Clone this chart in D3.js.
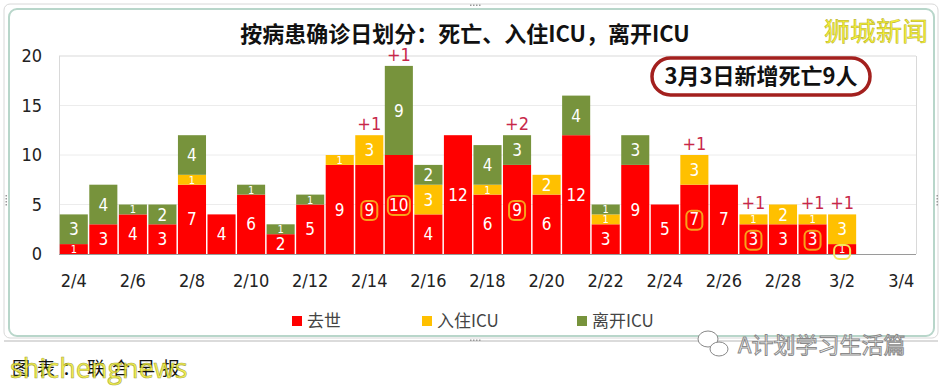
<!DOCTYPE html>
<html><head><meta charset="utf-8">
<script src="https://cdn.jsdelivr.net/npm/d3@7"></script>
<style>
body{margin:0;background:#fff;}
svg{display:block;}
</style></head>
<body>
<svg id="c" width="944" height="386"></svg>
<script>
const categories = ["2/4","2/5","2/6","2/7","2/8","2/9","2/10","2/11","2/12","2/13","2/14","2/15","2/16","2/17","2/18","2/19","2/20","2/21","2/22","2/23","2/24","2/25","2/26","2/27","2/28","3/1","3/2","3/3","3/4"];
const deaths   = [1,3,4,3,7,4,6,2,5,9,9,10,4,12,6,9,6,12,3,9,5,7,7,3,3,3,1,0,0];
const icuIn    = [0,0,0,0,1,0,0,0,0,1,3,0,3,0,1,0,2,0,1,0,0,3,0,1,2,1,3,0,0];
const icuOut   = [3,4,1,2,4,0,1,1,1,0,0,9,2,0,4,3,0,4,1,3,0,0,0,0,0,0,0,0,0];
const extraDeaths = ["","","","","","","","","","","+1","+1","","","","+2","","","","","","+1","","+1","","+1","+1","",""];
const circled = ["","","","","","","","","","","o","o","","","","o","","","","","","o","","o","","o","y","",""];
const yTicks = [0,5,10,15,20];
const seriesNames = ["去世","入住ICU","离开ICU"];
const seriesColors = ["#ff0000","#ffc000","#77933c"];
const title = "按病患确诊日划分：死亡、入住ICU，离开ICU";
const note = "3月3日新增死亡9人";

const svg = d3.select("#c");
const numFont = "'Liberation Sans Narrow','DejaVu Sans Condensed',sans-serif";
const cjkFont = "'Noto Sans CJK SC','Noto Sans',sans-serif";

// outer frame
svg.append("rect").attr("x",4).attr("y",4).attr("width",934).attr("height",334).attr("rx",6)
  .attr("fill","none").attr("stroke","#d8d8d8").attr("stroke-width",1);
svg.append("rect").attr("x",9).attr("y",9).attr("width",925).attr("height",327).attr("rx",8)
  .attr("fill","#fff").attr("stroke","#b8d6ca").attr("stroke-width",2);
svg.append("line").attr("x1",4).attr("x2",938).attr("y1",341).attr("y2",341).attr("stroke","#cfcfcf").attr("stroke-width",1.5);
[[470,5],[470,340],[6,195],[937,195]].forEach(([x,y],i)=>{
  for(let k=0;k<4;k++){
    if(i<2) svg.append("rect").attr("x",x+k*3).attr("y",y-0.5).attr("width",1.5).attr("height",1.5).attr("fill","#999");
    else svg.append("rect").attr("x",x-0.5).attr("y",y+k*3).attr("width",1.5).attr("height",1.5).attr("fill","#999");
  }
});

const x = d3.scaleBand().domain(categories).range([59,916]).paddingInner(0.05).paddingOuter(0.025);
const y = d3.scaleLinear().domain([0,20]).range([254,56]);

// plot frame and gridlines
svg.append("g").selectAll("line").data(yTicks.filter(d=>d>0)).join("line")
  .attr("x1",59).attr("x2",916).attr("y1",d=>y(d)).attr("y2",d=>y(d))
  .attr("stroke",d=>d===20?"#d9d9d9":"#ececec").attr("stroke-width",1);
svg.append("line").attr("x1",59.5).attr("x2",59.5).attr("y1",56).attr("y2",254).attr("stroke","#d9d9d9");
svg.append("line").attr("x1",916.5).attr("x2",916.5).attr("y1",56).attr("y2",254).attr("stroke","#d9d9d9");

// y axis
const yAxis = d3.axisLeft(y).tickValues(yTicks).tickSize(0).tickPadding(0);
const ya = svg.append("g").attr("transform","translate(42,0)").call(yAxis);
ya.select(".domain").remove();
ya.selectAll("text").attr("font-family",numFont).attr("font-size",18).attr("fill","#222");

// x axis
const xAxis = d3.axisBottom(x).tickValues(categories.filter((d,i)=>i%2===0)).tickSize(0).tickPadding(0);
const xa = svg.append("g").attr("transform","translate(0,274)").call(xAxis);
xa.select(".domain").remove();
xa.selectAll("text").attr("font-family",numFont).attr("font-size",18).attr("fill","#222");

// stacked bars
const rows = categories.map((c,i)=>({cat:c, s0:deaths[i], s1:icuIn[i], s2:icuOut[i]}));
const stack = d3.stack().keys(["s0","s1","s2"])(rows);
stack.forEach((layer,li)=>{
  const g = svg.append("g");
  layer.forEach((d,i)=>{
    const v = d[1]-d[0];
    if(v<=0) return;
    const x0 = x(categories[i]), bw = x.bandwidth();
    g.append("rect").attr("x",x0).attr("y",y(d[1])).attr("width",bw).attr("height",y(d[0])-y(d[1]))
      .attr("fill",seriesColors[li]);
  });
});
svg.append("line").attr("x1",59).attr("x2",916).attr("y1",254.5).attr("y2",254.5).attr("stroke","#9a9a9a").attr("stroke-width",1.2);

// segment labels
stack.forEach((layer,li)=>{
  layer.forEach((d,i)=>{
    const v = d[1]-d[0];
    if(v<=0) return;
    const cx = x(categories[i])+x.bandwidth()/2;
    const cy = (y(d[0])+y(d[1]))/2;
    const fs = v===1 ? 11 : 17;
    svg.append("text").attr("x",cx).attr("y",cy).attr("dy","0.36em").attr("text-anchor","middle")
      .attr("font-family",numFont).attr("font-size",fs).attr("fill","#fff").text(v);
    if(li===0 && circled[i]){
      const w = v>=10 ? 22 : 16, h = v===1 ? 14 : 19;
      svg.append("rect").attr("x",cx-w/2).attr("y",cy-h/2+(v===1?3:1)).attr("width",w).attr("height",h).attr("rx",5)
        .attr("fill","none").attr("stroke",circled[i]==="y"?"#f3e85a":"#f7a21b").attr("stroke-width",2);
    }
  });
});

// extra death annotations
rows.forEach((r,i)=>{
  if(!extraDeaths[i]) return;
  const top = r.s0+r.s1+r.s2;
  svg.append("text").attr("x",x(r.cat)+x.bandwidth()/2).attr("y",y(top)-5)
    .attr("text-anchor","middle").attr("font-family",numFont).attr("font-size",18)
    .attr("fill","#c8284a").text(extraDeaths[i]);
});

// title
svg.append("text").attr("x",465).attr("y",42).attr("text-anchor","middle")
  .attr("font-family",cjkFont).attr("font-weight","bold").attr("font-size",22).attr("fill","#111").text(title);

// watermark top right
svg.append("text").attr("x",876).attr("y",41).attr("text-anchor","middle")
  .attr("font-family",cjkFont).attr("font-size",26).attr("fill","#f6f236")
  .attr("stroke","#b4ac28").attr("stroke-width",0.5).text("狮城新闻");

// note box
svg.append("rect").attr("x",652).attr("y",58).attr("width",218).attr("height",37).attr("rx",18.5)
  .attr("fill","#fff").attr("stroke","#a3201e").attr("stroke-width",3.5);
svg.append("text").attr("x",761).attr("y",84).attr("text-anchor","middle")
  .attr("font-family",cjkFont).attr("font-weight","bold").attr("font-size",22).attr("fill","#111").text(note);

// legend
const legX = [292,422,577];
seriesNames.forEach((n,i)=>{
  svg.append("rect").attr("x",legX[i]).attr("y",316).attr("width",10).attr("height",10).attr("fill",seriesColors[i]);
  svg.append("text").attr("x",legX[i]+15).attr("y",321).attr("dy","0.36em")
    .attr("font-family",cjkFont).attr("font-size",17).attr("fill","#444").text(n);
});

// bottom watermarks
svg.append("text").attr("x",12).attr("y",375).attr("font-family",cjkFont).attr("font-size",18)
  .attr("letter-spacing",7).attr("fill","#111").text("图表：联合早报");
svg.append("text").attr("x",10).attr("y",378).attr("font-family","'Open Sans',sans-serif").attr("font-size",27)
  .attr("fill","#f2ee30").attr("stroke","#9a9a20").attr("stroke-width",0.6).attr("opacity",0.85).text("shichengnews");
// wechat-like icon
const ic = svg.append("g").attr("fill","#fff").attr("stroke","#888").attr("stroke-width",1);
ic.append("ellipse").attr("cx",708).attr("cy",339).attr("rx",10).attr("ry",8);
ic.append("ellipse").attr("cx",719).attr("cy",349).attr("rx",9).attr("ry",7);
svg.append("text").attr("x",738).attr("y",353).attr("font-family",cjkFont).attr("font-size",22)
  .attr("fill","#fff").attr("stroke","#8a8a8a").attr("stroke-width",1).text("A计划学习生活篇");
</script>
</body></html>
